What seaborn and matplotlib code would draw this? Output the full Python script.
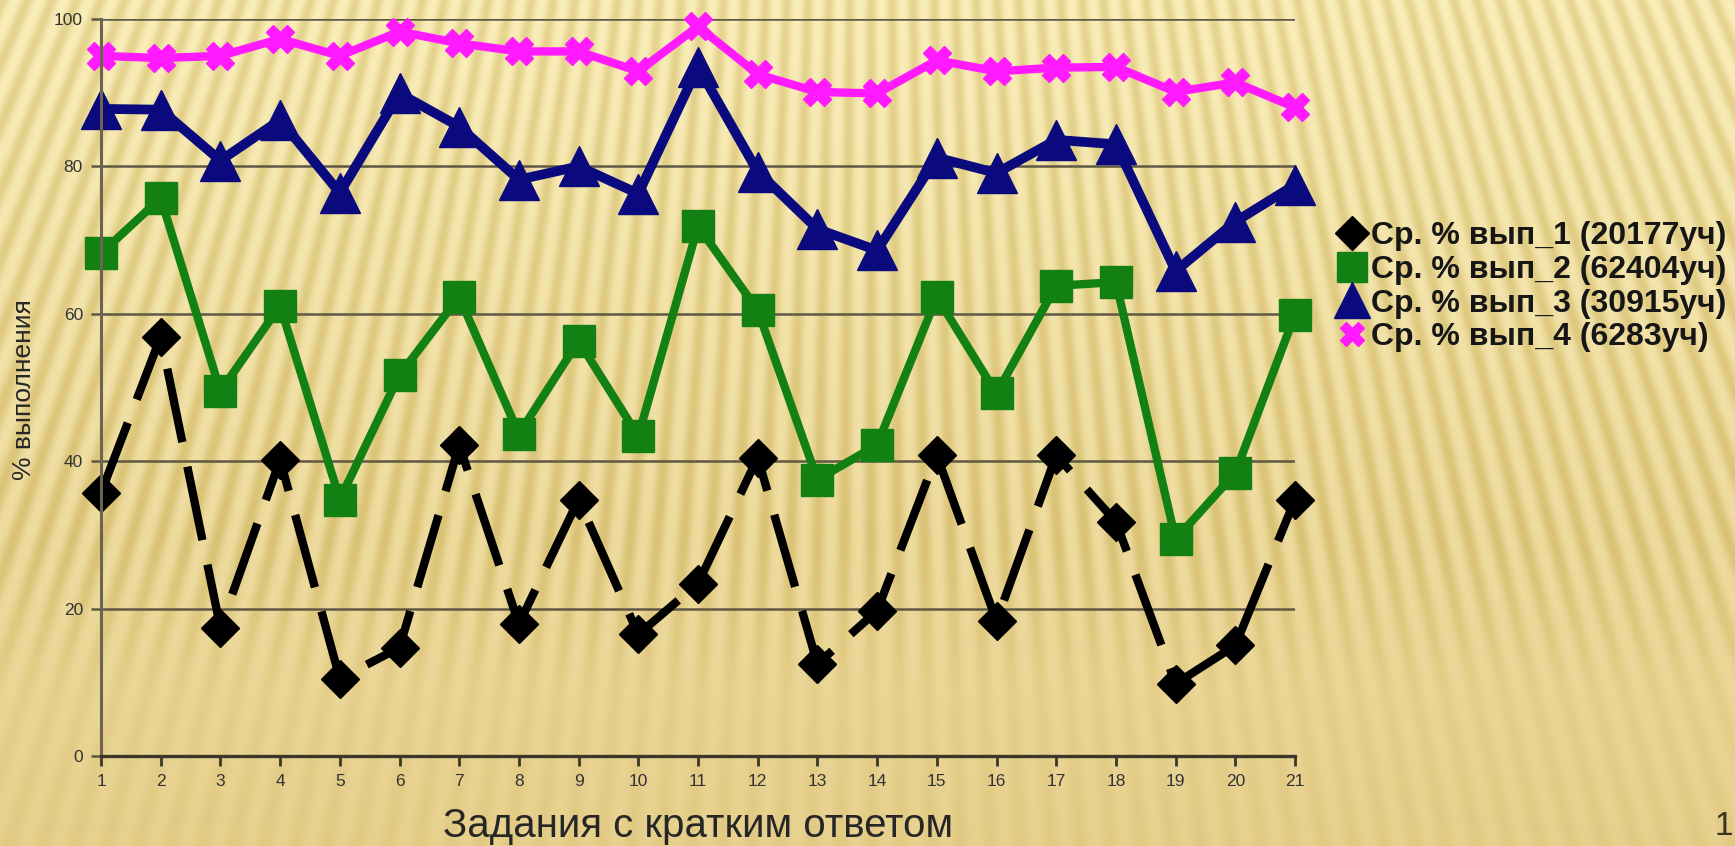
import numpy as np
import pandas as pd
import matplotlib
matplotlib.use("Agg")
import matplotlib.pyplot as plt
from matplotlib.lines import Line2D
import seaborn as sns

# ---- data -------------------------------------------------------------
tasks = list(range(1, 22))
series_names = [
    "Ср. % вып_1 (20177уч)",
    "Ср. % вып_2 (62404уч)",
    "Ср. % вып_3 (30915уч)",
    "Ср. % вып_4 (6283уч)",
]
vals_1 = [35.7, 56.9, 17.4, 40.2, 10.5, 14.7, 42.2, 17.9, 34.8, 16.5, 23.4,
          40.5, 12.5, 19.7, 40.8, 18.3, 40.8, 31.8, 9.8, 15.0, 34.8]
vals_2 = [68.2, 75.7, 49.5, 61.1, 34.8, 51.7, 62.3, 43.7, 56.3, 43.4, 71.9,
          60.5, 37.5, 42.2, 62.3, 49.2, 63.8, 64.3, 29.4, 38.4, 59.9]
vals_3 = [87.8, 87.7, 80.8, 86.3, 76.4, 89.9, 85.4, 78.2, 80.0, 76.3, 93.5,
          79.3, 71.5, 68.6, 81.2, 79.1, 83.6, 83.0, 65.8, 72.5, 77.5]
vals_4 = [95.0, 94.7, 95.0, 97.3, 95.0, 98.3, 96.7, 95.6, 95.6, 92.9, 99.0,
          92.5, 90.1, 89.9, 94.4, 92.9, 93.4, 93.5, 90.1, 91.4, 88.0]
y_ticks = [0, 20, 40, 60, 80, 100]
x_title = "Задания с кратким ответом"
y_title = "% выполнения"
page_no = "1"

# ---- style ------------------------------------------------------------
sns.set_style("ticks")
plt.rcParams["font.family"] = ["Liberation Sans", "DejaVu Sans"]

W, H = 1735, 846
fig = plt.figure(figsize=(W / 100, H / 100), dpi=100)

# textured parchment backdrop: fan of soft stripes fading to a plain tan
yy, xx = np.mgrid[0:H, 0:W].astype(float)
cx, cy = 870.0, -2000.0
theta = np.arctan2(xx - cx, yy - cy)
period = 21.0 / 2000.0
stripe = 0.5 + 0.5 * np.cos(2 * np.pi * theta / period)
stripe = stripe ** 1.4
fade = np.clip((760 - yy) / 220.0, 0.3, 1.0)
t = (yy / H)[..., None]
top = np.array([250, 238, 186], float)
bot = np.array([231, 209, 143], float)
base = top * (1 - t) + bot * t
dark = np.array([20, 25, 42], float)
img = base - dark * (stripe * fade)[..., None]
img = np.clip(img, 0, 255).astype(np.uint8)

bg = fig.add_axes([0, 0, 1, 1], zorder=0)
bg.imshow(img, aspect="auto", interpolation="bilinear")
bg.set_axis_off()

left, right, top_px, bottom_px = 101, 1295, 19, 756
ax = fig.add_axes([left / W, 1 - bottom_px / H, (right - left) / W,
                   (bottom_px - top_px) / H], zorder=1)
ax.set_facecolor("none")

styles = [
    dict(color="#000000", marker="D", markersize=19, linewidth=6.0,
         linestyle=(0, (9, 3))),
    dict(color="#138013", marker="s", markersize=23, linewidth=6.0,
         linestyle="-"),
    dict(color="#0a0a7e", marker="^", markersize=29, linewidth=7.0,
         linestyle="-"),
    dict(color="#ff1aff", marker="X", markersize=20, linewidth=6.0,
         linestyle="-"),
]
all_vals = [vals_1, vals_2, vals_3, vals_4]

for name, vals, st in zip(series_names, all_vals, styles):
    df = pd.DataFrame({"task": tasks, "pct": vals})
    sns.lineplot(data=df, x="task", y="pct", ax=ax, legend=False,
                 color=st["color"], marker=st["marker"],
                 markersize=st["markersize"], linewidth=st["linewidth"],
                 linestyle=st["linestyle"], markeredgecolor=st["color"],
                 markeredgewidth=1, clip_on=False)

ax.set_xlim(1, 21)
ax.set_ylim(0, 100)
ax.set_xticks(tasks)
ax.set_yticks(y_ticks)
ax.grid(axis="y", color="#5e5844", linewidth=1.8)
ax.grid(axis="x", visible=False)
ax.set_axisbelow(True)

for s in ["top", "right"]:
    ax.spines[s].set_visible(False)
ax.spines["left"].set_color("#6b6550")
ax.spines["left"].set_linewidth(2.2)
ax.spines["bottom"].set_color("#3b3829")
ax.spines["bottom"].set_linewidth(2.4)
ax.tick_params(axis="x", direction="out", length=7, width=2,
               color="#3b3829", labelsize=12.5, labelcolor="#333333", pad=6)
ax.tick_params(axis="y", direction="out", length=7, width=1.8,
               color="#5e5844", labelsize=12.5, labelcolor="#333333", pad=6)

ax.set_xlabel("")
ax.set_ylabel("")
fig.text(698 / W, 1 - 826 / H, x_title, ha="center", va="center",
         fontsize=29, color="#262626")
fig.text(24 / W, 1 - 390 / H, y_title, ha="center", va="center",
         rotation=90, fontsize=19, color="#262626")
fig.text(1733 / W, 1 - 826 / H, page_no, ha="right", va="center",
         fontsize=24, color="#3a3322")

handles = [
    Line2D([], [], linestyle="None", marker="D", markersize=17,
           color="#000000"),
    Line2D([], [], linestyle="None", marker="s", markersize=22,
           color="#138013"),
    Line2D([], [], linestyle="None", marker="^", markersize=26,
           color="#0a0a7e"),
    Line2D([], [], linestyle="None", marker="X", markersize=17,
           color="#ff1aff"),
]
fig.legend(handles, series_names, loc="upper left",
           bbox_to_anchor=(1334 / W, 1 - 221 / H), frameon=False,
           prop={"size": 23, "weight": "bold"}, labelspacing=0.12,
           handletextpad=0.05, handlelength=1.1, borderpad=0,
           borderaxespad=0, labelcolor="#161616")

fig.savefig("out.png", dpi=100)
